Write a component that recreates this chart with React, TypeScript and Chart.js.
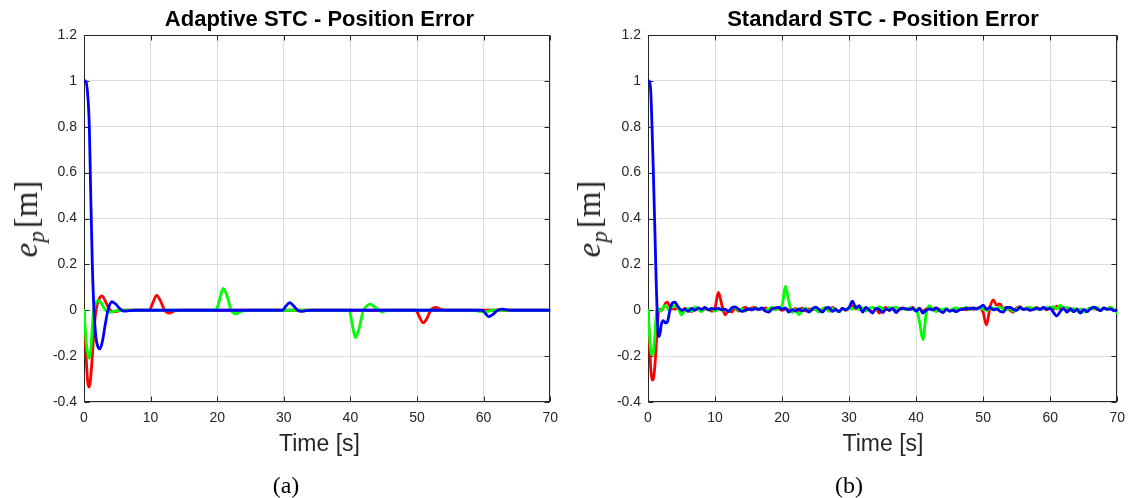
import React, { useEffect, useRef } from 'react';
import { Chart, registerables } from 'chart.js';

Chart.register(...registerables);

// ---------- axis ticks ----------
const xTickValues = [0, 10, 20, 30, 40, 50, 60, 70];
const xTickLabels = ['0', '10', '20', '30', '40', '50', '60', '70'];
const yTickValues = [-0.4, -0.2, 0, 0.2, 0.4, 0.6, 0.8, 1, 1.2];
const yTickLabels = ['-0.4', '-0.2', '0', '0.2', '0.4', '0.6', '0.8', '1', '1.2'];

// ---------- (a) Adaptive STC ----------
const adaptRedT = [0, 0.15, 0.35, 0.55, 0.75, 0.95, 1.25, 1.5, 1.8, 2.2, 2.7, 3.2, 3.7, 4.2, 4.8, 5.5, 9.8, 10.3, 10.9, 11.5, 12.1, 12.8, 13.6, 14.5, 49.8, 50.3, 50.9, 51.5, 52.1, 52.8, 53.6, 54.5, 70];
const adaptRedV = [0, -0.1, -0.22, -0.31, -0.335, -0.31, -0.2, -0.09, 0, 0.045, 0.063, 0.04, 0.01, -0.005, -0.006, 0, 0, 0.03, 0.065, 0.04, 0, -0.012, -0.003, 0, 0, -0.025, -0.055, -0.035, 0.003, 0.012, 0.004, 0, 0];

const adaptGreenT = [0, 0.2, 0.45, 0.8, 1.05, 1.25, 1.45, 1.75, 2.1, 2.5, 3.0, 3.5, 4.1, 4.8, 5.5, 19.8, 20.3, 20.9, 21.5, 22.1, 22.8, 23.6, 24.5, 39.8, 40.2, 40.75, 41.3, 41.9, 42.5, 43.0, 43.6, 44.3, 44.8, 45.5, 58.5, 59.5, 60.5, 61.5, 62.5, 70];
const adaptGreenV = [0, -0.09, -0.17, -0.21, -0.16, -0.07, 0, 0.03, 0.042, 0.035, 0.01, -0.006, -0.008, -0.002, 0, 0, 0.04, 0.095, 0.06, 0, -0.016, -0.005, 0, 0, -0.05, -0.12, -0.08, -0.005, 0.02, 0.027, 0.015, 0, -0.008, 0, 0, -0.005, -0.006, 0.002, 0, 0];

const adaptBlueT = [0, 0.25, 0.5, 0.8, 1.0, 1.25, 1.5, 1.8, 2.1, 2.4, 2.8, 3.2, 3.6, 4.2, 4.8, 5.4, 6.0, 6.8, 7.5, 29.8, 30.3, 30.9, 31.5, 32.1, 32.6, 33.3, 34, 59.8, 60.3, 60.8, 61.4, 62, 62.7, 63.4, 64, 70];
const adaptBlueV = [1, 1, 0.96, 0.8, 0.52, 0.2, 0, -0.12, -0.16, -0.168, -0.13, -0.06, 0, 0.037, 0.026, 0.006, -0.004, -0.002, 0, 0, 0.018, 0.033, 0.018, 0, -0.005, -0.002, 0, 0, -0.015, -0.028, -0.018, -0.002, 0.005, 0.002, 0, 0];

// ---------- (b) Standard STC ----------
const stdT = [
  0, 0.2, 0.4, 0.6, 0.8, 1, 1.2, 1.4, 1.6, 1.8, 2, 2.3, 2.6, 2.9, 3.2, 3.5,
  4, 4.5, 5, 5.5, 6, 6.5, 7, 7.5, 8, 8.5,
  9, 9.5, 10, 10.5, 11, 11.5, 12, 12.5, 13, 13.5,
  14, 14.5, 15, 15.5, 16, 16.5, 17, 17.5, 18, 18.5,
  19, 19.5, 20, 20.5, 21, 21.5, 22, 22.5, 23, 23.5,
  24, 24.5, 25, 25.5, 26, 26.5, 27, 27.5, 28, 28.5,
  29, 29.5, 30, 30.5, 31, 31.5, 32, 32.5, 33, 33.5,
  34, 34.5, 35, 35.5, 36, 36.5, 37, 37.5, 38, 38.5,
  39, 39.5, 40, 40.5, 41, 41.5, 42, 42.5, 43, 43.5,
  44, 44.5, 45, 45.5, 46, 46.5, 47, 47.5, 48, 48.5,
  49, 49.5, 50, 50.5, 51, 51.5, 52, 52.5, 53, 53.5,
  54, 54.5, 55, 55.5, 56, 56.5, 57, 57.5, 58, 58.5,
  59, 59.5, 60, 60.5, 61, 61.5, 62, 62.5, 63, 63.5,
  64, 64.5, 65, 65.5, 66, 66.5, 67, 67.5, 68, 68.5,
  69, 69.5, 70,
];
const stdRed = [
  0, -0.12, -0.25, -0.305, -0.3, -0.25, -0.17, -0.07, 0, 0.005, -0.002, 0.01, 0.03, 0.035, 0.02, 0.01,
  0.005, 0.012, -0.004, 0.008, 0, -0.006, 0.008, 0.004, -0.003, 0.006,
  0.004, -0.004, 0.01, 0.078, 0.025, -0.02, -0.002, -0.008, 0.01, -0.004,
  0.004, 0.014, 0.004, 0.01, 0.012, 0.002, 0.006, 0.01, 0.002, 0.012,
  0.004, 0.008, 0, 0.006, 0.002, -0.006, 0.008, -0.002, 0.01, -0.004,
  0.006, 0.002, 0.01, -0.006, 0.004, 0.01, -0.004, 0.012, 0.004, -0.006,
  0.008, 0, 0.01, 0.02, 0.008, 0.014, 0, 0.01, 0.004, -0.008,
  0.006, -0.012, 0.004, 0.012, 0, 0.01, -0.006, 0.006, 0.01, 0.004,
  0.008, 0.012, 0, 0.008, -0.004, 0.006, 0.012, 0.004, 0.01, 0,
  -0.008, 0.006, -0.002, 0.004, -0.004, 0.006, 0.008, 0.002, 0.01, 0.004,
  0.008, 0.012, -0.01, -0.065, 0.01, 0.045, 0.022, 0.028, 0.008, 0.012,
  0, -0.008, 0.01, 0.016, 0.004, 0.01, 0.002, 0.006, 0.012, 0.004,
  0.01, 0.002, 0.014, 0.006, 0.018, 0.008, 0.012, -0.002, 0.008, -0.004,
  0.006, -0.008, 0.002, -0.006, 0.008, 0.01, 0.004, 0, 0.008, 0.006,
  0.01, 0, 0.004,
];
const stdGreen = [
  0, -0.1, -0.17, -0.195, -0.18, -0.12, -0.03, 0.01, 0.005, -0.005, 0, 0.015, 0.02, 0.01, 0, 0.012,
  0.02, 0.01, -0.02, 0, 0.008, -0.004, 0.015, 0.004, -0.006, 0.01,
  0.002, 0.008, -0.004, 0.006, 0, 0.004, -0.006, 0.008, 0.012, 0,
  0.006, -0.004, 0.008, 0.002, 0.01, 0.004, 0.008, -0.002, 0.006, 0.012,
  0.002, 0.01, 0.02, 0.105, 0.04, -0.01, 0.004, -0.02, 0, 0.01,
  -0.006, 0.008, 0.002, -0.008, 0.006, 0.01, -0.004, 0.008, 0, -0.006,
  0.006, 0.002, 0.012, 0.006, 0.018, 0.004, 0.01, -0.004, 0.008, 0.014,
  0.004, 0.016, 0.006, 0.002, 0.012, 0.008, 0.014, 0.002, 0.008, 0.004,
  0.01, 0.004, 0.006, -0.05, -0.128, -0.015, 0.02, 0.004, -0.006, 0.006,
  0.002, 0.008, -0.004, 0.006, 0.01, 0.002, 0.008, 0.012, 0.004, 0.01,
  0.006, 0.012, 0.004, 0, 0.008, 0.01, 0.004, 0.014, 0.006, 0.002,
  0.008, -0.004, 0.006, 0.012, 0.004, 0.008, 0.014, 0.002, 0.01, 0.004,
  0.008, 0.012, 0.01, 0.016, 0.006, 0.022, 0.008, 0.012, -0.002, 0.008,
  -0.004, 0.006, -0.008, 0.004, 0.01, 0.006, 0.012, 0, 0.01, 0.004,
  0.012, 0.004, -0.012,
];
const stdBlue = [
  1, 1, 0.96, 0.8, 0.6, 0.38, 0.15, -0.04, -0.115, -0.1, -0.06, -0.045, -0.055, -0.05, -0.01, 0.025,
  0.035, 0.015, 0, 0.005, -0.005, 0.008, 0, 0.01, 0.004, 0.012,
  0.002, 0.008, 0.005, 0.008, 0.003, 0.005, -0.006, 0.01, 0.015, 0.005,
  -0.005, 0, 0.006, 0.002, 0.008, 0.004, 0.01, -0.004, -0.008, 0.006,
  0.01, 0.012, 0.005, 0.01, -0.008, 0.003, -0.004, 0.006, -0.003, 0.004,
  -0.008, 0.006, 0.014, 0.004, -0.008, 0.008, 0.012, -0.005, 0.004, -0.006,
  0.008, 0.002, 0.012, 0.04, 0.01, 0.02, -0.008, 0.012, 0, -0.012,
  0.008, 0.003, -0.01, 0.006, 0, 0.008, -0.01, 0.004, 0.008, 0.006,
  0.004, 0.008, -0.004, 0.008, -0.012, 0, 0.006, 0.002, 0.01, -0.002,
  -0.01, 0.004, -0.004, 0, -0.006, 0.002, 0.004, 0.008, 0.006, 0.01,
  0.006, 0.012, 0.022, 0.004, 0.012, 0.002, 0.006, -0.004, -0.008, 0.012,
  0.012, 0.004, 0, 0.012, 0.004, 0.006, 0, 0.004, 0.008, 0.004,
  0.012, 0.005, 0.008, -0.01, -0.025, -0.005, 0.008, -0.008, 0.006, -0.006,
  0.004, -0.012, 0.004, -0.006, 0.006, 0.014, 0.006, -0.002, 0.01, 0.004,
  0.006, -0.002, 0,
];

const RED = '#ff0000';
const GREEN = '#00ff00';
const BLUE = '#0000ff';
const AXIS = '#262626';
const SANS = "'Liberation Sans', Arial, Helvetica, sans-serif";
const SERIF = "'Liberation Serif', 'Times New Roman', serif";

const pts = (t: number[], v: number[]) => t.map((x, i) => ({ x, y: v[i] }));

const boxPlugin = {
  id: 'matlabBox',
  beforeDatasetsDraw(chart: any) {
    const { ctx, chartArea: a, scales } = chart;
    ctx.save();
    ctx.strokeStyle = AXIS;
    ctx.lineWidth = 1;
    const L = Math.round(a.left) + 0.5;
    const R = Math.round(a.right) - 0.5;
    const T = Math.round(a.top) + 0.5;
    const B = Math.round(a.bottom) - 0.5;
    ctx.strokeRect(L, T, R - L, B - T);
    const tl = 5;
    ctx.beginPath();
    xTickValues.forEach((v) => {
      const px = Math.round(scales.x.getPixelForValue(v)) + 0.5;
      ctx.moveTo(px, B); ctx.lineTo(px, B - tl);
      ctx.moveTo(px, T); ctx.lineTo(px, T + tl);
    });
    yTickValues.forEach((v) => {
      const py = Math.round(scales.y.getPixelForValue(v)) + 0.5;
      ctx.moveTo(L, py); ctx.lineTo(L + tl, py);
      ctx.moveTo(R, py); ctx.lineTo(R - tl, py);
    });
    ctx.stroke();
    ctx.restore();
  },
};

type Series = { t: number[]; v: number[]; color: string; order: number };

function Panel(props: {
  left: number; width: number; yAxisW: number; rightPad: number;
  series: Series[]; title: string; caption: string; captionX: number; yLabelX: number;
}) {
  const ref = useRef<HTMLCanvasElement | null>(null);
  const { left, width, yAxisW, rightPad, series, title, caption, captionX, yLabelX } = props;
  const H = 498;
  const areaTop = 35;
  const areaBottom = 402;
  const plotCenter = left + yAxisW + (width - rightPad - yAxisW) / 2;

  useEffect(() => {
    if (!ref.current) return;
    const chart = new Chart(ref.current, {
      type: 'line',
      data: {
        datasets: series.map((s) => ({
          data: pts(s.t, s.v),
          order: s.order,
          borderColor: s.color,
          backgroundColor: s.color,
          borderWidth: 2.8,
          pointRadius: 0,
          fill: false,
          cubicInterpolationMode: 'monotone' as const,
          borderJoinStyle: 'round' as const,
          borderCapStyle: 'round' as const,
        })),
      },
      options: {
        animation: false,
        responsive: false,
        devicePixelRatio: 1,
        events: [],
        layout: { padding: { top: areaTop, right: rightPad, left: 0, bottom: 0 } },
        plugins: { legend: { display: false }, tooltip: { enabled: false }, title: { display: false } },
        scales: {
          x: {
            type: 'linear',
            min: 0,
            max: 70,
            afterFit: (s: any) => { s.height = H - areaBottom; },
            afterBuildTicks: (s: any) => { s.ticks = xTickValues.map((value) => ({ value })); },
            ticks: {
              padding: 8,
              color: AXIS,
              font: { family: SANS, size: 14 },
              maxRotation: 0,
              autoSkip: false,
              callback: (_v: any, i: number) => xTickLabels[i],
            },
            grid: { color: '#dcdcdc', lineWidth: 1, drawTicks: false },
            border: { display: false },
          },
          y: {
            type: 'linear',
            min: -0.4,
            max: 1.2,
            afterFit: (s: any) => { s.width = yAxisW; },
            afterBuildTicks: (s: any) => { s.ticks = yTickValues.map((value) => ({ value })); },
            ticks: {
              padding: 7,
              color: AXIS,
              font: { family: SANS, size: 14 },
              autoSkip: false,
              callback: (_v: any, i: number) => yTickLabels[i],
            },
            grid: { color: '#dcdcdc', lineWidth: 1, drawTicks: false },
            border: { display: false },
          },
        },
      } as any,
      plugins: [boxPlugin],
    });
    return () => chart.destroy();
  }, []);

  return (
    <>
      <canvas ref={ref} width={width} height={H}
        style={{ position: 'absolute', left, top: 0, width, height: H }} />
      <div style={{ position: 'absolute', left: plotCenter - 300, top: 8, width: 600, textAlign: 'center',
        fontFamily: SANS, fontWeight: 'bold', fontSize: 22, lineHeight: '22px', color: '#000', whiteSpace: 'nowrap' }}>
        {title}
      </div>
      <div style={{ position: 'absolute', left: plotCenter - 150, top: 432, width: 300, textAlign: 'center',
        fontFamily: SANS, fontSize: 23, lineHeight: '23px', color: AXIS, whiteSpace: 'nowrap' }}>
        Time [s]
      </div>
      <div style={{ position: 'absolute', left: captionX - 50, top: 473, width: 100, textAlign: 'center',
        fontFamily: SERIF, fontSize: 24, lineHeight: '24px', color: '#000' }}>
        {caption}
      </div>
      <div style={{ position: 'absolute', left: yLabelX, top: (areaTop + areaBottom) / 2,
        transform: 'translate(-50%, -50%) rotate(-90deg)', fontFamily: SERIF, fontSize: 33, lineHeight: '33px',
        color: AXIS, whiteSpace: 'nowrap' }}>
        <span style={{ fontStyle: 'italic' }}>e</span>
        <span style={{ fontStyle: 'italic', fontSize: '0.7em', position: 'relative', top: '0.3em' }}>p</span>
        <span style={{ marginLeft: 3 }}>[m]</span>
      </div>
    </>
  );
}

export default function App() {
  // order: lower numbers are drawn on top (blue over green over red)
  const adaptive: Series[] = [
    { t: adaptRedT, v: adaptRedV, color: RED, order: 3 },
    { t: adaptGreenT, v: adaptGreenV, color: GREEN, order: 2 },
    { t: adaptBlueT, v: adaptBlueV, color: BLUE, order: 1 },
  ];
  const standard: Series[] = [
    { t: stdT, v: stdRed, color: RED, order: 3 },
    { t: stdT, v: stdGreen, color: GREEN, order: 2 },
    { t: stdT, v: stdBlue, color: BLUE, order: 1 },
  ];
  return (
    <div style={{ position: 'absolute', left: 0, top: 0, width: 1133, height: 498, background: '#fff', overflow: 'hidden' }}>
      <Panel left={0} width={566} yAxisW={84} rightPad={11} series={adaptive}
        title="Adaptive STC - Position Error" caption="(a)" captionX={286} yLabelX={28} />
      <Panel left={566} width={567} yAxisW={82} rightPad={15} series={standard}
        title="Standard STC - Position Error" caption="(b)" captionX={849} yLabelX={591} />
    </div>
  );
}
